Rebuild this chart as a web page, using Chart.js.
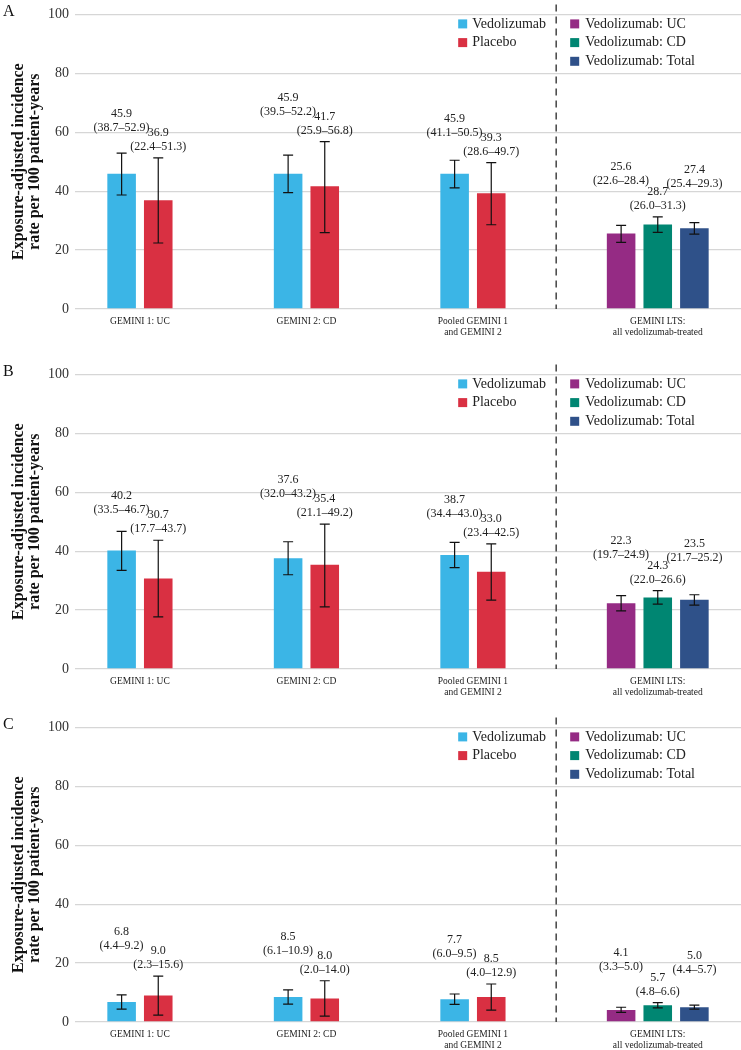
<!DOCTYPE html>
<html>
<head>
<meta charset="utf-8">
<script src="https://cdn.jsdelivr.net/npm/chart.js@4.4.1/dist/chart.umd.min.js"></script>
<style>
  body { margin: 0; background: #fff; }
  .panel { position: absolute; left: 0; width: 741px; }
</style>
</head>
<body>
<div class="panel" style="top:0px;height:350px"><canvas id="chartA" width="741" height="350"></canvas></div>
<div class="panel" style="top:360px;height:350px"><canvas id="chartB" width="741" height="350"></canvas></div>
<div class="panel" style="top:713px;height:337px"><canvas id="chartC" width="741" height="337"></canvas></div>
<script>
// categorias do eixo x
const categories = [
  ['GEMINI 1: UC'],
  ['GEMINI 2: CD'],
  ['Pooled GEMINI 1', 'and GEMINI 2'],
  ['GEMINI LTS:', 'all vedolizumab-treated']
];
const legendLeft = ['Vedolizumab', 'Placebo'];
const legendRight = ['Vedolizumab: UC', 'Vedolizumab: CD', 'Vedolizumab: Total'];
const yTicks = [0, 20, 40, 60, 80, 100];

// Painel A
const aSeries1 = [45.9, 45.9, 45.9, 25.6];
const aLow1 = [38.7, 39.5, 41.1, 22.6];
const aHigh1 = [52.9, 52.2, 50.5, 28.4];
const aSeries2 = [36.9, 41.7, 39.3, 28.7];
const aLow2 = [22.4, 25.9, 28.6, 26.0];
const aHigh2 = [51.3, 56.8, 49.7, 31.3];
const aSeries3 = [null, null, null, 27.4];
const aLow3 = [null, null, null, 25.4];
const aHigh3 = [null, null, null, 29.3];

// Painel B
const bSeries1 = [40.2, 37.6, 38.7, 22.3];
const bLow1 = [33.5, 32.0, 34.4, 19.7];
const bHigh1 = [46.7, 43.2, 43.0, 24.9];
const bSeries2 = [30.7, 35.4, 33.0, 24.3];
const bLow2 = [17.7, 21.1, 23.4, 22.0];
const bHigh2 = [43.7, 49.2, 42.5, 26.6];
const bSeries3 = [null, null, null, 23.5];
const bLow3 = [null, null, null, 21.7];
const bHigh3 = [null, null, null, 25.2];

// Painel C
const cSeries1 = [6.8, 8.5, 7.7, 4.1];
const cLow1 = [4.4, 6.1, 6.0, 3.3];
const cHigh1 = [9.2, 10.9, 9.5, 5.0];
const cSeries2 = [9.0, 8.0, 8.5, 5.7];
const cLow2 = [2.3, 2.0, 4.0, 4.8];
const cHigh2 = [15.6, 14.0, 12.9, 6.6];
const cSeries3 = [null, null, null, 5.0];
const cLow3 = [null, null, null, 4.4];
const cHigh3 = [null, null, null, 5.7];

const FONT = "'Liberation Serif', 'DejaVu Serif', serif";
const colorVedo = '#3bb5e6';
const colorPlacebo = '#d93042';
const colorUC = '#952b84';
const colorCD = '#008672';
const colorTotal = '#2f5189';

// Plugin que desenha barras de erro, rótulos, legenda e linha tracejada
const extrasPlugin = {
  id: 'extras',
  afterDatasetsDraw(chart) {
    const ctx = chart.ctx;
    const area = chart.chartArea;
    const yScale = chart.scales.y;
    const opts = chart.options.plugins.extras;
    const metas = [0, 1, 2].map(i => chart.getDatasetMeta(i));
    const values = chart.data.datasets.map(d => d.data);

    ctx.save();

    // barras de erro
    ctx.strokeStyle = '#111';
    ctx.lineWidth = 1.2;
    for (let i = 0; i < 3; i++) {
      values[i].forEach((v, j) => {
        if (v === null) return;
        const x = metas[i].data[j].x;
        const y1 = yScale.getPixelForValue(opts.lows[i][j]);
        const y2 = yScale.getPixelForValue(opts.highs[i][j]);
        ctx.beginPath();
        ctx.moveTo(x, y1); ctx.lineTo(x, y2);
        ctx.moveTo(x - 5, y1); ctx.lineTo(x + 5, y1);
        ctx.moveTo(x - 5, y2); ctx.lineTo(x + 5, y2);
        ctx.stroke();
      });
    }

    // rótulos de valores
    ctx.fillStyle = '#222';
    ctx.font = '12px ' + FONT;
    ctx.textAlign = 'center';
    ctx.textBaseline = 'middle';
    categories.forEach((c, j) => {
      const n = values[2][j] === null ? 2 : 3;
      const base = yScale.getPixelForValue(opts.highs[1][j]) - 11;
      const line2 = [base - (n === 3 ? 25 : 19), base, base - 22];
      for (let i = 0; i < n; i++) {
        const x = metas[i].data[j].x;
        const lo = opts.lows[i][j], hi = opts.highs[i][j];
        ctx.fillText(values[i][j].toFixed(1), x, line2[i] - 14);
        ctx.fillText('(' + lo.toFixed(1) + '\u2013' + hi.toFixed(1) + ')', x, line2[i]);
      }
    });

    // rótulos do eixo x, centrados nas barras do grupo
    ctx.font = '9.5px ' + FONT;
    categories.forEach((lines, j) => {
      const xs = [0, 1, 2].filter(i => values[i][j] !== null).map(i => metas[i].data[j].x);
      const x = xs.reduce((a, b) => a + b, 0) / xs.length;
      lines.forEach((t, k) => ctx.fillText(t, x, area.bottom + 12 + k * 11));
    });

    // linha tracejada separando o LTS
    const dashX = (metas[1].data[2].x + metas[0].data[3].x) / 2;
    ctx.strokeStyle = '#444';
    ctx.lineWidth = 1.5;
    ctx.setLineDash([7, 5]);
    ctx.beginPath();
    ctx.moveTo(dashX, area.top - 10);
    ctx.lineTo(dashX, area.bottom);
    ctx.stroke();
    ctx.setLineDash([]);

    // legenda em duas colunas
    ctx.font = '14px ' + FONT;
    ctx.textAlign = 'left';
    const leftColors = [colorVedo, colorPlacebo];
    const rightColors = [colorUC, colorCD, colorTotal];
    legendLeft.forEach((t, r) => {
      const y = area.top + 9.5 + r * 18.7;
      ctx.fillStyle = leftColors[r];
      ctx.fillRect(dashX - 98, y - 4.5, 9, 9);
      ctx.fillStyle = '#222';
      ctx.fillText(t, dashX - 84, y);
    });
    legendRight.forEach((t, r) => {
      const y = area.top + 9.5 + r * 18.7;
      ctx.fillStyle = rightColors[r];
      ctx.fillRect(dashX + 14, y - 4.5, 9, 9);
      ctx.fillStyle = '#222';
      ctx.fillText(t, dashX + 29, y);
    });

    // letra do painel
    ctx.font = '16px ' + FONT;
    ctx.fillStyle = '#111';
    ctx.fillText(opts.letter, 3, area.top - 3);

    ctx.restore();
  }
};

function makeChart(id, letter, s1, s2, s3, lows, highs, xHeight) {
  const ctx = document.getElementById(id).getContext('2d');
  return new Chart(ctx, {
    type: 'bar',
    data: {
      labels: categories,
      datasets: [
        { label: 'Vedolizumab', data: s1, backgroundColor: [colorVedo, colorVedo, colorVedo, colorUC] },
        { label: 'Placebo', data: s2, backgroundColor: [colorPlacebo, colorPlacebo, colorPlacebo, colorCD] },
        { label: 'Vedolizumab: Total', data: s3, backgroundColor: [colorTotal, colorTotal, colorTotal, colorTotal] }
      ]
    },
    options: {
      responsive: false,
      animation: false,
      layout: { padding: { top: 13, right: 0, bottom: 0, left: 0 } },
      datasets: { bar: { categoryPercentage: 0.66, barPercentage: 0.78 } },
      plugins: {
        legend: { display: false },
        tooltip: { enabled: false },
        extras: { letter: letter, lows: lows, highs: highs }
      },
      scales: {
        x: {
          grid: { display: false },
          border: { display: false },
          ticks: { display: false },
          afterFit: s => { s.height = xHeight; }
        },
        y: {
          min: 0,
          max: 100,
          afterBuildTicks: s => { s.ticks = yTicks.map(v => ({ value: v })); },
          grid: { color: '#d6d6d6', lineWidth: 1.3, drawTicks: false },
          border: { display: false },
          ticks: { padding: 6, color: '#333', font: { family: FONT, size: 14 } },
          title: {
            display: true,
            text: ['Exposure-adjusted incidence', 'rate per 100 patient-years'],
            color: '#111',
            font: { family: FONT, size: 16, weight: 'bold', lineHeight: 1.05 },
            padding: { top: 10, bottom: 0 }
          },
          afterFit: s => { s.width = 75; }
        }
      }
    },
    plugins: [extrasPlugin]
  });
}

document.addEventListener('DOMContentLoaded', function() {
  makeChart('chartA', 'A', aSeries1, aSeries2, aSeries3,
    [aLow1, aLow2, aLow3], [aHigh1, aHigh2, aHigh3], 41);
  makeChart('chartB', 'B', bSeries1, bSeries2, bSeries3,
    [bLow1, bLow2, bLow3], [bHigh1, bHigh2, bHigh3], 41);
  makeChart('chartC', 'C', cSeries1, cSeries2, cSeries3,
    [cLow1, cLow2, cLow3], [cHigh1, cHigh2, cHigh3], 28);
});
</script>
</body>
</html>
